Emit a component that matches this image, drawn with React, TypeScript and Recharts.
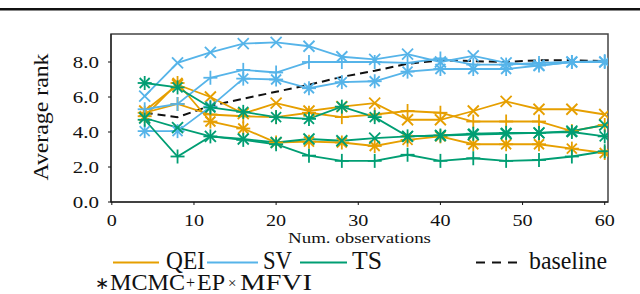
import { LineChart, Line, XAxis, YAxis, ReferenceArea } from "recharts";

// ─── Data ─────────────────────────────────────────────────────────────────────
const obs = [4, 8, 12, 16, 20, 24, 28, 32, 36, 40, 44, 48, 52, 56, 60];

const qeiMcmc = [4.9, 6.8, 4.6, 4.2, 3.4, 3.45, 3.4, 3.2, 3.55, 3.75, 3.3, 3.3, 3.3, 3.05, 2.8];
const qeiEp = [5.1, 5.6, 5.0, 4.9, 4.85, 5.1, 4.85, 5.0, 5.2, 5.1, 4.6, 4.6, 4.6, 4.05, 4.4];
const qeiMfvi = [5.2, 6.7, 6.0, 5.05, 5.65, 5.2, 5.45, 5.65, 4.7, 4.7, 5.2, 5.75, 5.3, 5.3, 5.0];

const svMcmc = [4.05, 4.05, 5.45, 7.05, 7.0, 6.5, 6.85, 6.9, 7.45, 7.6, 7.6, 7.6, 7.8, 8.0, 8.0];
const svEp = [5.3, 5.6, 7.1, 7.55, 7.4, 8.0, 8.0, 8.0, 7.95, 8.2, 7.85, 7.85, 7.95, 8.0, 8.05];
const svMfvi = [6.05, 7.95, 8.55, 9.05, 9.12, 8.9, 8.3, 8.15, 8.45, 8.0, 8.35, 7.95, 7.8, 8.0, 8.0];

const tsMcmc = [6.8, 6.55, 5.4, 5.15, 4.85, 4.75, 5.45, 4.85, 3.75, 3.8, 3.9, 3.95, 3.95, 4.0, 3.75];
const tsEp = [4.7, 2.6, 3.75, 3.55, 3.3, 2.65, 2.35, 2.35, 2.7, 2.35, 2.5, 2.35, 2.4, 2.6, 2.9];
const tsMfvi = [4.8, 4.25, 3.75, 3.6, 3.4, 3.6, 3.5, 3.65, 3.75, 3.8, 3.85, 3.9, 3.95, 4.05, 4.4];

const baseline = [5.1, 4.85, 5.5, 5.9, 6.3, 6.7, 7.15, 7.5, 7.9, 8.1, 8.05, 8.0, 8.1, 8.1, 8.05];

const xTicks = [0, 10, 20, 30, 40, 50, 60];
const yTicks = [0, 2, 4, 6, 8];

const ORANGE = "#E69F00";
const BLUE = "#56B4E9";
const GREEN = "#009E73";
const SERIF = "Liberation Serif, Times New Roman, Times, serif";

const rows = obs.map((n, i) => ({
  n,
  qeiMcmc: qeiMcmc[i],
  qeiEp: qeiEp[i],
  qeiMfvi: qeiMfvi[i],
  svMcmc: svMcmc[i],
  svEp: svEp[i],
  svMfvi: svMfvi[i],
  tsMcmc: tsMcmc[i],
  tsEp: tsEp[i],
  tsMfvi: tsMfvi[i],
  baseline: baseline[i],
}));

type Kind = "mcmc" | "ep" | "mfvi";

function Marker({ cx, cy, kind, color }: { cx: number; cy: number; kind: Kind; color: string }) {
  if (cx == null || cy == null) return null;
  const sw = 1.8;
  if (kind === "ep") {
    const r = 7;
    return (
      <g stroke={color} strokeWidth={sw}>
        <line x1={cx - r} y1={cy} x2={cx + r} y2={cy} />
        <line x1={cx} y1={cy - r} x2={cx} y2={cy + r} />
      </g>
    );
  }
  if (kind === "mfvi") {
    const r = 5.5;
    return (
      <g stroke={color} strokeWidth={sw}>
        <line x1={cx - r} y1={cy - r} x2={cx + r} y2={cy + r} />
        <line x1={cx - r} y1={cy + r} x2={cx + r} y2={cy - r} />
      </g>
    );
  }
  const r = 7;
  const d = 5;
  return (
    <g stroke={color} strokeWidth={sw}>
      <line x1={cx - r} y1={cy} x2={cx + r} y2={cy} />
      <line x1={cx} y1={cy - r} x2={cx} y2={cy + r} />
      <line x1={cx - d} y1={cy - d} x2={cx + d} y2={cy + d} />
      <line x1={cx - d} y1={cy + d} x2={cx + d} y2={cy - d} />
    </g>
  );
}

function series(key: string, color: string, kind: Kind) {
  return (
    <Line
      key={key}
      dataKey={key}
      stroke={color}
      strokeWidth={1.8}
      isAnimationActive={false}
      activeDot={false}
      dot={(p: any) => <Marker key={`${key}-${p.index}`} cx={p.cx} cy={p.cy} kind={kind} color={color} />}
    />
  );
}

function XTick({ x, y, payload }: any) {
  return (
    <text
      transform={`translate(${x},${y + 19}) scale(1.15,1)`}
      textAnchor="middle"
      style={{ fontFamily: SERIF, fontSize: 17.5 }}
      fill="#111"
    >
      {payload.value}
    </text>
  );
}

function YTick({ x, y, payload }: any) {
  return (
    <text
      transform={`translate(${x},${y + 6}) scale(1.2,1)`}
      textAnchor="end"
      style={{ fontFamily: SERIF, fontSize: 17.5 }}
      fill="#111"
    >
      {Number(payload.value).toFixed(1)}
    </text>
  );
}

function Overlay() {
  const t = { fill: "#111", lengthAdjust: "spacingAndGlyphs" as const };
  const f = (size: number) => ({ fontFamily: SERIF, fontSize: size });
  return (
    <svg
      width={640}
      height={294}
      style={{ position: "absolute", left: 0, top: 0, pointerEvents: "none" }}
    >
      {/* page rule above the figure */}
      <rect x={0} y={8} width={640} height={2.5} fill="#111" />

      {/* axis titles */}
      <text {...t} style={f(20)} textLength={127} textAnchor="middle" transform="translate(48,117) rotate(-90)">
        Average rank
      </text>
      <text {...t} x={288} y={243} style={f(15.5)} textLength={143}>
        Num. observations
      </text>

      {/* legend row 1 */}
      <line x1={113} y1={262.5} x2={159} y2={262.5} stroke={ORANGE} strokeWidth={2} />
      <text {...t} x={166} y={269} style={f(25)} textLength={39}>QEI</text>
      <line x1={207} y1={262.5} x2={258} y2={262.5} stroke={BLUE} strokeWidth={2} />
      <text {...t} x={263} y={269} style={f(25)} textLength={29}>SV</text>
      <line x1={300} y1={262.5} x2={347} y2={262.5} stroke={GREEN} strokeWidth={2} />
      <text {...t} x={352} y={269} style={f(25)} textLength={30}>TS</text>
      <line x1={476} y1={262.5} x2={517} y2={262.5} stroke="#111" strokeWidth={2} strokeDasharray="9 7" />
      <text {...t} x={529} y={269} style={f(25)} textLength={78}>baseline</text>

      {/* legend row 2 */}
      <text {...t} x={95} y={289} style={f(17)}>∗</text>
      <text {...t} x={110} y={290} style={f(24)} textLength={75}>MCMC</text>
      <text {...t} x={186} y={288} style={f(16)}>+</text>
      <text {...t} x={197} y={290} style={f(24)} textLength={28}>EP</text>
      <text {...t} x={228} y={288} style={f(15)}>×</text>
      <text {...t} x={240} y={290} style={f(24)} textLength={72}>MFVI</text>
    </svg>
  );
}

export default function App() {
  return (
    <div style={{ position: "absolute", left: 0, top: 0, width: 640, height: 294, background: "#fff" }}>
      <LineChart
        width={640}
        height={294}
        data={rows}
        margin={{ top: 34, right: 32, left: 51, bottom: 62 }}
      >
        <XAxis
          dataKey="n"
          type="number"
          domain={[-0.1, 60.4]}
          ticks={xTicks}
          allowDataOverflow
          height={30}
          tickSize={3}
          tickMargin={2}
          stroke="#111"
          tick={<XTick />}
        />
        <YAxis
          type="number"
          domain={[0, 9.6]}
          ticks={yTicks}
          allowDataOverflow
          width={60}
          tickSize={3}
          tickMargin={9}
          stroke="#111"
          tick={<YTick />}
        />
        <ReferenceArea
          x1={-0.1}
          x2={60.4}
          y1={0}
          y2={9.6}
          fill="none"
          fillOpacity={0}
          stroke="#444"
          strokeWidth={1.5}
          ifOverflow="visible"
        />
        <Line
          dataKey="baseline"
          stroke="#111"
          strokeWidth={2}
          strokeDasharray="8 5"
          dot={false}
          activeDot={false}
          isAnimationActive={false}
        />
        {series("qeiMcmc", ORANGE, "mcmc")}
        {series("qeiEp", ORANGE, "ep")}
        {series("qeiMfvi", ORANGE, "mfvi")}
        {series("svMcmc", BLUE, "mcmc")}
        {series("svEp", BLUE, "ep")}
        {series("svMfvi", BLUE, "mfvi")}
        {series("tsMcmc", GREEN, "mcmc")}
        {series("tsEp", GREEN, "ep")}
        {series("tsMfvi", GREEN, "mfvi")}
      </LineChart>
      <Overlay />
    </div>
  );
}
